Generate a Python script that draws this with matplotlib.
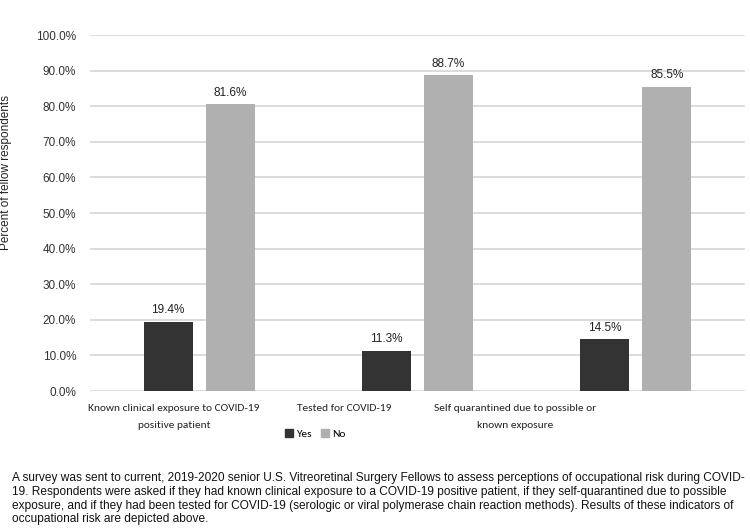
import matplotlib
matplotlib.use("Agg")
import matplotlib.pyplot as plt
import numpy as np
from matplotlib.patches import Patch

categories = ["Known clinical exposure to COVID-19\npositive patient",
              "Tested for COVID-19",
              "Self quarantined due to possible or\nknown exposure"]
yes_values = [19.4, 11.3, 14.5]
no_values = [80.6, 88.7, 85.5]
yes_labels = ["19.4%", "11.3%", "14.5%"]
no_labels = ["81.6%", "88.7%", "85.5%"]
yticks = [0, 10, 20, 30, 40, 50, 60, 70, 80, 90, 100]
caption = ("A survey was sent to current, 2019-2020 senior U.S. Vitreoretinal Surgery Fellows to assess perceptions of occupational risk during COVID-\n"
           "19. Respondents were asked if they had known clinical exposure to a COVID-19 positive patient, if they self-quarantined due to possible\n"
           "exposure, and if they had been tested for COVID-19 (serologic or viral polymerase chain reaction methods). Results of these indicators of\n"
           "occupational risk are depicted above.")

W, H = 750, 531
fig = plt.figure(figsize=(7.5, 5.31), dpi=100)
ax = fig.add_axes([90 / W, 1 - 391 / H, 655 / W, 356 / H])

yes_c = "#333333"
no_c = "#b0b0b0"
x = np.arange(len(categories))
bw = 0.225
off = 0.142
ax.bar(x - off, yes_values, bw, color=yes_c, zorder=3)
ax.bar(x + off, no_values, bw, color=no_c, zorder=3)
for xi, v, l in zip(x, yes_values, yes_labels):
    ax.annotate(l, (xi - off, v), xytext=(0, 4), textcoords="offset points",
                ha="center", va="bottom", fontsize=8.5, family="Liberation Sans", color="#222222")
for xi, v, l in zip(x, no_values, no_labels):
    ax.annotate(l, (xi + off, v), xytext=(0, 4), textcoords="offset points",
                ha="center", va="bottom", fontsize=8.5, family="Liberation Sans", color="#222222")

ax.set_xlim(-0.5, 2.5)
ax.set_ylim(0, 100)
ax.set_yticks(yticks)
ax.set_yticklabels([f"{t:.1f}%" for t in yticks], family="Liberation Sans", fontsize=8.5, color="#333333")
ax.set_xticks([])
ax.tick_params(axis="y", length=0, pad=10)
ax.grid(axis="y", color="#d9d9d9", linewidth=1.3, zorder=0)
for s in ax.spines.values():
    s.set_visible(False)
fig.text(6 / W, 1 - 172 / H, "Percent of fellow respondents", rotation=90, ha="center", va="center",
         family="Liberation Sans", fontsize=8.5, color="#222222")

# category labels (positioned as in the reference)
label_px = [174, 344, 515]
for px, c in zip(label_px, categories):
    fig.text(px / W, 1 - 404 / H, c, ha="center", va="top", fontsize=8.2,
             family=["Carlito", "Liberation Sans"], color="#222222", linespacing=2.1)

handles = [Patch(color=yes_c, label="Yes"), Patch(color=no_c, label="No")]
fig.legend(handles=handles, loc="center", bbox_to_anchor=(315 / W, 1 - 434 / H), ncol=2,
           frameon=False, prop={"family": ["Carlito", "Liberation Sans"], "size": 8.2},
           handlelength=0.7, handleheight=0.7, handletextpad=0.3, columnspacing=0.8)

fig.text(12 / W, 1 - 472 / H, caption, ha="left", va="top", fontsize=8.55,
         family="Liberation Sans", color="#111111", linespacing=1.2)

fig.savefig("out.png", dpi=100)
